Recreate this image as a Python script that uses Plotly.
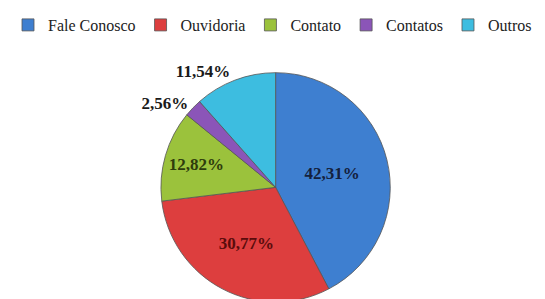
import plotly.graph_objects as go

labels = ["Fale Conosco", "Ouvidoria", "Contato", "Contatos", "Outros"]
values = [42.31, 30.77, 12.82, 2.56, 11.54]
text_labels = ["42,31%", "30,77%", "12,82%", "2,56%", "11,54%"]
colors = ["#3E7FD0", "#DD3E3E", "#9BC23C", "#8B55B8", "#3DBDE0"]
text_colors = ["#14213D", "#5A0C0C", "#2E3C0C", "#1A1A1A", "#1A1A1A"]
positions = ["inside", "inside", "inside", "outside", "outside"]

serif = "Liberation Serif"

fig = go.Figure(go.Pie(
    labels=labels,
    values=values,
    text=["<b>" + t + "</b>" for t in text_labels],
    textinfo="text",
    textposition=positions,
    sort=False,
    direction="clockwise",
    rotation=0,
    marker=dict(colors=colors, line=dict(color="#555555", width=0.8)),
    textfont=dict(family=serif, size=17, color=text_colors),
    insidetextfont=dict(family=serif, size=17, color=text_colors[:3]),
    outsidetextfont=dict(family=serif, size=17, color="#1A1A1A"),
    insidetextorientation="horizontal",
    domain=dict(x=[0.186, 0.796], y=[0.0, 0.78]),
))

fig.update_layout(
    width=545, height=299,
    margin=dict(l=0, r=0, t=0, b=0),
    paper_bgcolor="white",
    font=dict(family=serif),
    showlegend=True,
    legend=dict(
        orientation="h", x=0.0, y=1.0, xanchor="left", yanchor="top",
        font=dict(family=serif, size=16, color="#222222"),
        itemwidth=30, tracegroupgap=0,
    ),
)

fig.write_html("out.html")
